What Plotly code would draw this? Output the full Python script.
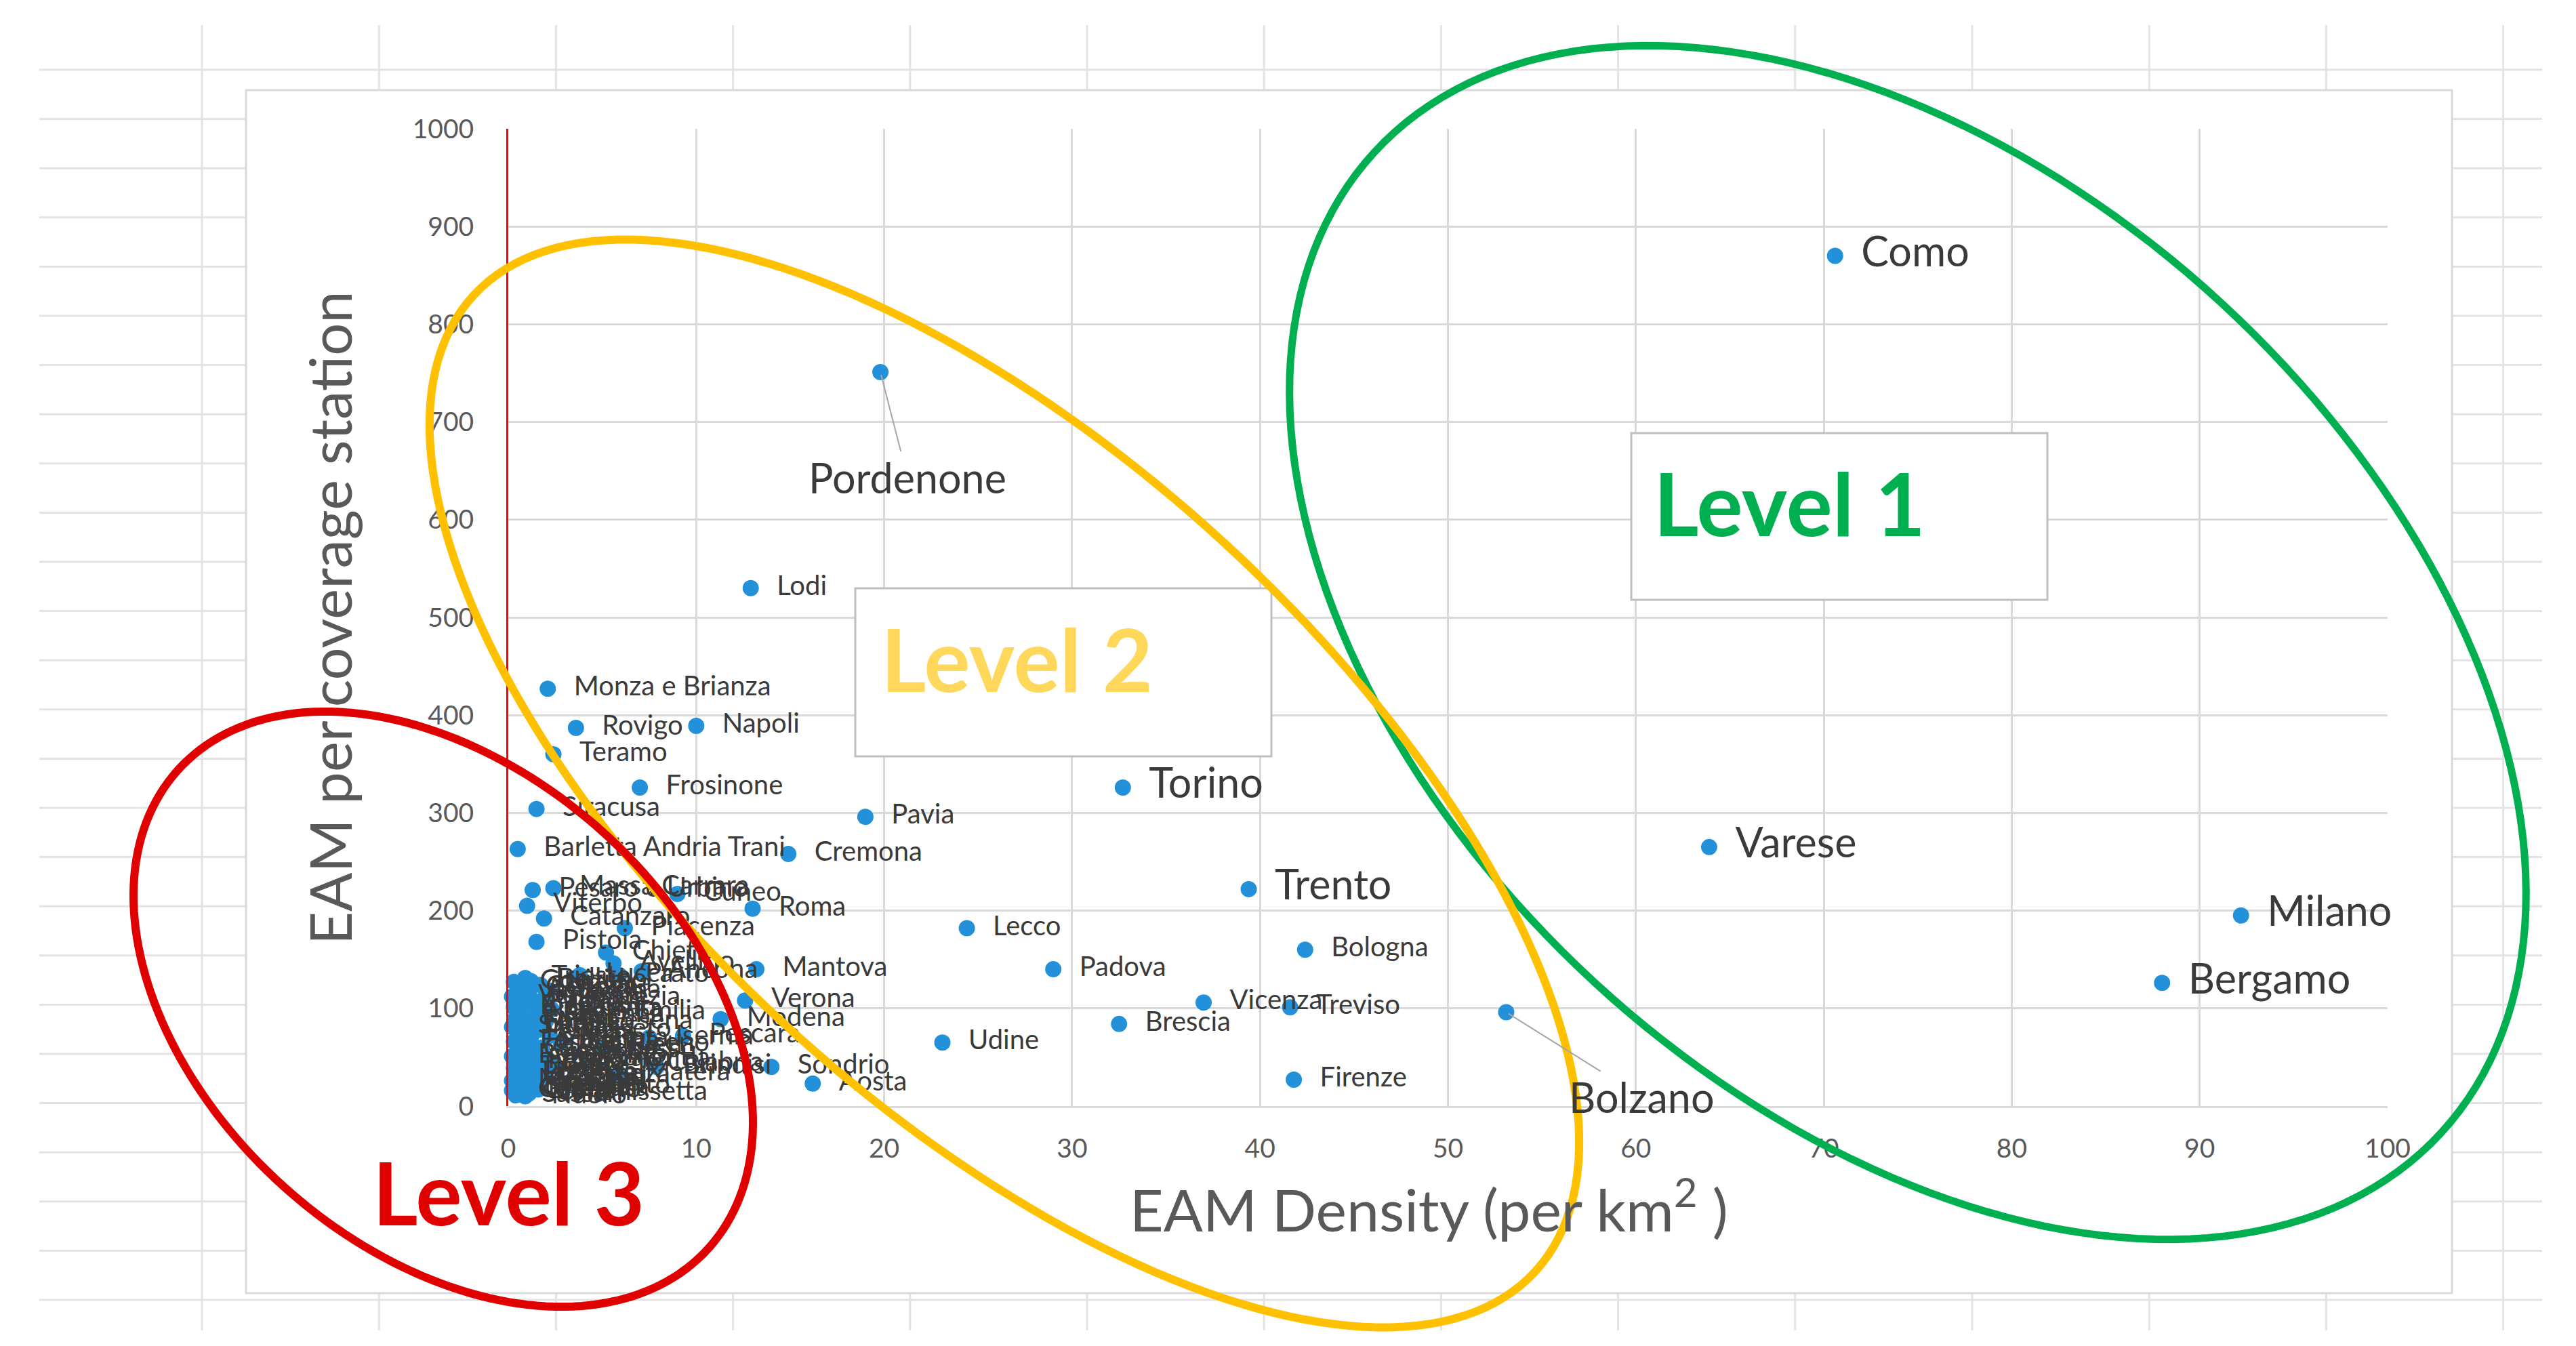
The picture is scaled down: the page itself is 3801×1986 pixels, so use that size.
import math
import plotly.graph_objects as go

# EAM density (per km2) vs EAM per coverage station, Italian provinces

big_names = ["Como", "Varese", "Torino", "Trento", "Milano", "Bergamo"]
big_dens = [70.6, 63.9, 32.7, 39.4, 92.2, 88.0]
big_eam = [870, 265, 326, 222, 195, 126]

leader_names = ["Pordenone", "Bolzano"]
leader_dens = [19.8, 53.1]
leader_eam = [751, 96]

mid_names = ["Lodi", "Monza e Brianza", "Rovigo", "Napoli", "Teramo", "Frosinone",
             "Siracusa", "Pavia", "Barletta Andria Trani", "Cremona", "Pesaro e Urbino",
             "Massa Carrara", "Cuneo", "Viterbo", "Roma", "Catanzaro", "Piacenza", "Lecco",
             "Pistoia", "Chieti", "Bologna", "Avellino", "Mantova", "Padova", "Verona",
             "Vicenza", "Treviso", "Brescia", "Udine", "Sondrio", "Aosta", "Firenze"]
mid_dens = [12.9, 2.1, 3.6, 10.0, 2.4, 7.0,
            1.5, 19.0, 0.5, 14.9, 1.3,
            2.4, 9.0, 1.0, 13.0, 1.9, 6.2, 24.4,
            1.5, 5.2, 42.4, 5.6, 13.2, 29.0, 12.6,
            37.0, 41.6, 32.5, 23.1, 14.0, 16.2, 41.8]
mid_eam = [530, 427, 387, 389, 360, 326,
           304, 296, 263, 258, 221,
           223, 217, 205, 202, 192, 182, 182,
           168, 157, 160, 146, 140, 140, 108,
           106, 101, 84, 65, 40, 23, 27]

# crowded block close to the origin
low_names = ["Trieste", "Lucca", "Prato", "Ancona", "Gorizia", "Novara", "Genova", "Savona",
             "Imperia", "Venezia", "La Spezia", "Parma", "Vercelli", "Biella", "Ferrara",
             "Reggio Emilia", "Ravenna", "Modena", "Rimini", "Pisa", "Arezzo", "Siena",
             "Grosseto", "Perugia", "Pescara", "Terni", "Macerata", "Latina", "Fermo",
             "Ascoli Piceno", "Rieti", "L'Aquila", "Isernia", "Campobasso", "Caserta",
             "Benevento", "Salerno", "Foggia", "Reggio Calabria", "Bari", "Taranto",
             "Brindisi", "Lecce", "Potenza", "Matera", "Cosenza", "Crotone", "Messina",
             "Trapani", "Palermo", "Agrigento", "Catania", "Ragusa", "Enna", "Caltanissetta",
             "Sassari", "Nuoro", "Oristano", "Cagliari", "Asti", "Belluno", "Forlì-Cesena",
             "Livorno", "Vibo Valentia"]
low_dens = [0.9, 3.8, 5.9, 7.1, 0.3, 1.7, 0.6, 2.2,
            1.1, 0.2, 1.9, 0.8, 1.4, 0.3, 2.3,
            0.7, 1.5, 11.3, 0.4, 2.0, 1.0, 0.2,
            1.6, 0.6, 9.3, 2.2, 1.2, 2.8, 0.3,
            0.9, 5.0, 1.8, 7.5, 0.5, 1.3,
            0.2, 2.1, 0.7, 2.4, 1.5, 0.3,
            7.9, 1.1, 0.4, 5.9, 1.9, 0.8, 0.2,
            1.4, 0.5, 1.0, 0.3, 1.6, 0.7, 1.1,
            0.4, 0.9, 0.2, 1.3, 0.6, 1.2, 0.5,
            1.7, 1.0]
low_eam = [131, 134, 134, 138, 127, 124, 121, 118,
           115, 112, 110, 107, 104, 101, 99,
           96, 93, 89, 90, 87, 84, 81,
           78, 75, 72, 72, 69, 65, 66,
           63, 60, 60, 70, 57, 54,
           51, 48, 46, 43, 42, 39,
           40, 36, 33, 33, 31, 28, 26,
           24, 22, 20, 18, 17, 15, 13,
           11, 10, 16, 28, 118, 128, 86,
           100, 48]

x_ticks = [0, 10, 20, 30, 40, 50, 60, 70, 80, 90, 100]
y_ticks = [0, 100, 200, 300, 400, 500, 600, 700, 800, 900, 1000]

# page geometry (pixels)
W, H = 3801, 1986
PL, PR, PT, PB = 742, 3515, 182, 1624

BLUE = "#2391DA"
LABEL = "#3A3A3A"
TICK = "#595959"
FONT = "Lato"


def to_paper(px, py):
    return (px - PL) / (PR - PL), (PB - py) / (PB - PT)


def ellipse_path(cx, cy, a, b, deg, n=200):
    t0 = math.radians(deg)
    pts = []
    for i in range(n):
        t = 2 * math.pi * i / n
        x = cx + a * math.cos(t) * math.cos(t0) - b * math.sin(t) * math.sin(t0)
        y = cy + a * math.cos(t) * math.sin(t0) + b * math.sin(t) * math.cos(t0)
        pts.append(to_paper(x, y))
    return "M " + " L ".join(f"{x:.5f},{y:.5f}" for x, y in pts) + " Z"


def rect(x0, y0, x1, y1, **kw):
    a0 = to_paper(x0, y1)
    a1 = to_paper(x1, y0)
    return dict(type="rect", xref="paper", yref="paper",
                x0=a0[0], y0=a0[1], x1=a1[0], y1=a1[1], **kw)


dot_x = big_dens + leader_dens + mid_dens + low_dens
dot_y = big_eam + leader_eam + mid_eam + low_eam

lab_x = big_dens + mid_dens + low_dens
lab_y = big_eam + mid_eam + low_eam
lab_text = big_names + mid_names + low_names
lab_size = [61] * len(big_names) + [40] * (len(mid_names) + len(low_names))

fig = go.Figure()
fig.add_trace(go.Scatter(x=dot_x, y=dot_y, mode="markers", cliponaxis=False,
                         marker=dict(size=24, color=BLUE), hoverinfo="skip"))
# labels: transparent wide markers push the text right like Excel does
fig.add_trace(go.Scatter(x=lab_x, y=lab_y, mode="markers+text", text=lab_text,
                         textposition="middle right", cliponaxis=False,
                         textfont=dict(family=FONT, size=lab_size, color=LABEL),
                         marker=dict(size=60, color="rgba(0,0,0,0)"),
                         hoverinfo="skip"))

shapes = []
# spreadsheet grid behind the chart object
for k in range(26):
    y = 95 + 72.6 * k
    p0 = to_paper(50, y)
    p1 = to_paper(3743, y)
    shapes.append(dict(type="line", xref="paper", yref="paper", x0=p0[0], y0=p0[1],
                       x1=p1[0], y1=p1[1], line=dict(color="#E3E3E3", width=3), layer="below"))
for j in range(14):
    x = 290 + 261.2 * j
    p0 = to_paper(x, 29)
    p1 = to_paper(x, 1955)
    shapes.append(dict(type="line", xref="paper", yref="paper", x0=p0[0], y0=p0[1],
                       x1=p1[0], y1=p1[1], line=dict(color="#E3E3E3", width=3), layer="below"))
# chart area
shapes.append(rect(355, 125, 3610, 1900, fillcolor="white",
                   line=dict(color="#D9D9D9", width=3), layer="below"))
# text boxes
shapes.append(rect(2399, 631, 3013, 877, fillcolor="white",
                   line=dict(color="#BFBFBF", width=3), layer="above"))
shapes.append(rect(1254, 860, 1868, 1108, fillcolor="white",
                   line=dict(color="#BFBFBF", width=3), layer="above"))
# level rings
shapes.append(dict(type="path", xref="paper", yref="paper",
                   path=ellipse_path(2807, 940, 1069, 682, 42.6),
                   line=dict(color="#00B050", width=11), layer="above"))
shapes.append(dict(type="path", xref="paper", yref="paper",
                   path=ellipse_path(1474, 1148, 1064, 481, 42.6),
                   line=dict(color="#FFC000", width=12), layer="above"))
shapes.append(dict(type="path", xref="paper", yref="paper",
                   path=ellipse_path(646, 1481, 527, 352, 42.0),
                   line=dict(color="#E00000", width=12), layer="above"))

annotations = []
# labels with leader lines
ann_off = [(40, 155), (200, 125)]
for name, xv, yv, (ax, ay) in zip(leader_names, leader_dens, leader_eam, ann_off):
    annotations.append(dict(x=xv, y=yv, xref="x", yref="y", text=name, showarrow=True,
                            ax=ax, ay=ay, arrowhead=0, arrowwidth=2, arrowcolor="#A6A6A6",
                            standoff=4, font=dict(family=FONT, size=61, color=LABEL)))

lx, ly = to_paper(478, 904)
annotations.append(dict(x=lx, y=ly, xref="paper", yref="paper", text="EAM per coverage station",
                        textangle=-90, showarrow=False, xanchor="center", yanchor="middle",
                        font=dict(family=FONT, size=85, color=TICK)))
lx, ly = to_paper(2100, 1770)
annotations.append(dict(x=lx, y=ly, xref="paper", yref="paper",
                        text="EAM Density (per km<sup>2</sup> )", showarrow=False,
                        xanchor="center", yanchor="middle",
                        font=dict(family=FONT, size=86, color=TICK)))

for txt, px, py, col in [("Level 1", 2430, 733, "#00B050"),
                         ("Level 2", 1290, 963, "#FFD75A"),
                         ("Level 3", 540, 1750, "#E00000")]:
    lx, ly = to_paper(px, py)
    annotations.append(dict(x=lx, y=ly, xref="paper", yref="paper", text="<b>" + txt + "</b>",
                            showarrow=False, xanchor="left", yanchor="middle",
                            font=dict(family=FONT, size=128, color=col)))

axis_common = dict(showgrid=True, gridcolor="#D9D9D9", gridwidth=3, zeroline=False,
                   ticks="", tickfont=dict(family=FONT, size=39, color=TICK), fixedrange=True)

fig.update_layout(
    width=W, height=H, autosize=False,
    margin=dict(l=PL, r=W - PR, t=PT, b=H - PB, pad=0),
    paper_bgcolor="white", plot_bgcolor="rgba(0,0,0,0)",
    showlegend=False,
    font=dict(family=FONT),
    xaxis=dict(range=[0, 100], tickvals=x_ticks, showline=True, linecolor="#D9D9D9",
               linewidth=3, ticklabelstandoff=26, **axis_common),
    yaxis=dict(range=[0, 1000], tickvals=y_ticks, showline=True, linecolor="#FF0000",
               linewidth=3, ticklabelstandoff=40, **axis_common),
    shapes=shapes,
    annotations=annotations,
)

fig.write_html("out.html")
